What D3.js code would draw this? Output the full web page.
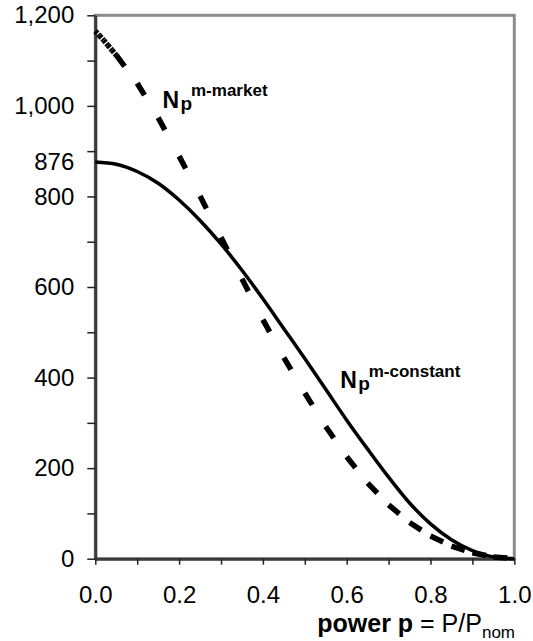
<!DOCTYPE html>
<html><head><meta charset="utf-8">
<script src="https://cdn.jsdelivr.net/npm/d3@7"></script>
<style>
body{margin:0;background:#fff}
svg{display:block}
text{font-family:Arial,"Liberation Sans",sans-serif;fill:#000}
</style>
</head><body>
<svg id="chart" width="533" height="641"></svg>
<script>
// ---- data ----
const constantP = [0,0.05,0.10,0.15,0.20,0.25,0.30,0.35,0.40,0.45,0.50,0.55,0.60,0.65,0.70,0.75,0.80,0.85,0.90,0.95,1.00];
const constantN = [876,871,855,829,792,747,695,637,574,508,442,374,306,242,180,123,77,42,18,4,0];
const marketP = [0,0.01,0.02,0.03,0.04,0.05,0.10,0.15,0.20,0.25,0.30,0.35,0.40,0.45,0.50,0.55,0.60,0.65,0.70,0.75,0.80,0.85,0.90,0.95,1.00];
const marketN = [1165,1155,1145,1134,1123,1112,1050,974,889,801,710,618,528,444,366,292,225,167,119,80,50,28,13,4,0];
const xTickValues = [0,0.1,0.2,0.3,0.4,0.5,0.6,0.7,0.8,0.9,1.0];
const yTickValues = [0,100,200,300,400,500,600,700,800,900,1000,1100,1200];
const yExtraLabels = [876];
const xTitleBold = "power p";
const xTitleRegular = " = P/P";
const xTitleSub = "nom";
const seriesNames = ["m-market","m-constant"];
const seriesLabelP = [0.1604,0.5845];
const seriesLabelN = [996,376];

// ---- layout ----
const svg = d3.select("#chart");
const x = d3.scaleLinear().domain([0,1]).range([95.3,514.3]);
const y = d3.scaleLinear().domain([0,1200]).range([558.7,15.3]);
const FS = 24;
const FONT = "Arial, 'Liberation Sans', sans-serif";

// plot border (gray)
svg.append("rect")
  .attr("x", x(0)).attr("y", y(1200))
  .attr("width", x(1)-x(0)).attr("height", y(0)-y(1200))
  .attr("fill","none").attr("stroke","#8c8c8c").attr("stroke-width",3);

// x axis
const gx = svg.append("g").attr("transform",`translate(0,${y(0)})`)
  .call(d3.axisBottom(x).tickValues(xTickValues).tickSize(6).tickSizeOuter(0).tickPadding(21.6)
    .tickFormat((d,i)=> i%2===0 ? d3.format(".1f")(d) : ""));
gx.select(".domain").attr("stroke","#3a3a3a").attr("stroke-width",3);
gx.selectAll(".tick line").attr("stroke","#222").attr("stroke-width",1.5);
gx.selectAll("text").attr("font-size",FS).style("font-family",FONT).attr("fill","#000");

// y axis
const gy = svg.append("g").attr("transform",`translate(${x(0)},0)`)
  .call(d3.axisLeft(y).tickValues(yTickValues).tickSize(8).tickSizeOuter(0).tickPadding(13)
    .tickFormat((d,i)=> i%2===0 ? d3.format(",")(d) : ""));
gy.select(".domain").attr("stroke","#3a3a3a").attr("stroke-width",3);
gy.selectAll(".tick line").attr("stroke","#222").attr("stroke-width",1.5);
gy.selectAll("text").attr("font-size",FS).style("font-family",FONT).attr("fill","#000");

const gy2 = svg.append("g").attr("transform",`translate(${x(0)},0)`)
  .call(d3.axisLeft(y).tickValues(yExtraLabels).tickSize(0).tickPadding(21));
gy2.select(".domain").remove();
gy2.selectAll("text").attr("font-size",FS).style("font-family",FONT).attr("fill","#000");

// market (dashed) line, drawn segment by segment
const market = marketP.map((p,i)=>({p, n: marketN[i]}));
const segLine = d3.line().x(d=>x(d.p)).y(d=>y(d.n));
for (let i=0;i<market.length-1;i++){
  const a = market[i], b = market[i+1];
  const L = Math.hypot(x(b.p)-x(a.p), y(b.n)-y(a.n));
  svg.append("path")
    .attr("d", segLine([a,b]))
    .attr("fill","none").attr("stroke","#000").attr("stroke-width",5.5)
    .attr("stroke-linecap","butt")
    .attr("stroke-dasharray", L < 10 ? "3 1.3" : `14 ${L}`);
}

// constant (solid) line
const constant = constantP.map((p,i)=>({p, n: constantN[i]}));
svg.append("path")
  .attr("d", d3.line().x(d=>x(d.p)).y(d=>y(d.n)).curve(d3.curveMonotoneX)(constant))
  .attr("fill","none").attr("stroke","#000").attr("stroke-width",3.5);

// series labels
seriesNames.forEach((name,i)=>{
  const g = svg.append("g").attr("transform",`translate(${x(seriesLabelP[i])},${y(seriesLabelN[i])})`);
  g.append("text").attr("x",0).attr("y",0).attr("font-size",23).attr("font-weight","bold").text("N");
  g.append("text").attr("x",18).attr("y",2).attr("font-size",19).attr("font-weight","bold").text("p");
  g.append("text").attr("x",28.5).attr("y",-11.5).attr("font-size",17).attr("font-weight","bold").text(name);
});

// x axis title
const t = svg.append("text").attr("x",515).attr("y",631.7).attr("text-anchor","end").attr("font-size",25);
t.append("tspan").attr("font-weight","bold").text(xTitleBold);
t.append("tspan").text(xTitleRegular);
t.append("tspan").attr("font-size",17).attr("dy",6.5).text(xTitleSub);
</script>
</body></html>
